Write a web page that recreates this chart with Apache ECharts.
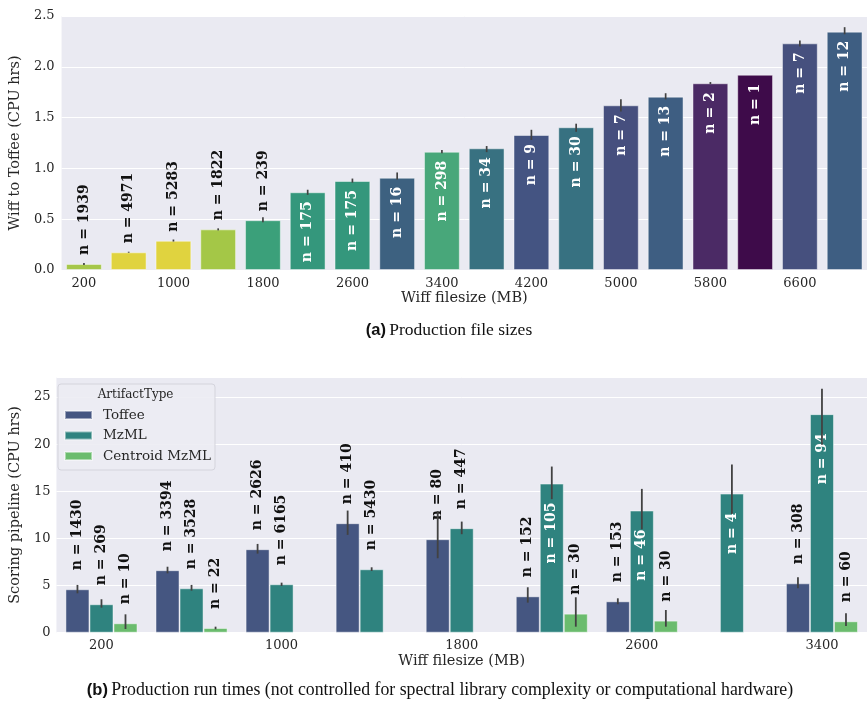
<!DOCTYPE html>
<html>
<head>
<meta charset="utf-8">
<script src="https://cdn.jsdelivr.net/npm/echarts@6/dist/echarts.min.js"></script>
<style>
html,body{margin:0;padding:0;background:#fff;}
#chart{width:867px;height:702px;}
</style>
</head>
<body>
<div id="chart"></div>
<script>
// ---------- Panel (a): Wiff to Toffee ----------
const topCategories = ['200','600','1000','1400','1800','2200','2600','3000','3400','3800','4200','4600','5000','5400','5800','6200','6600','7000'];
const topValues = [0.06, 0.174, 0.288, 0.40, 0.49, 0.765, 0.876, 0.908, 1.164, 1.198, 1.329, 1.405, 1.621, 1.706, 1.838, 1.922, 2.231, 2.346];
const topErrLow = [0.05, 0.17, 0.28, 0.39, 0.47, 0.74, 0.86, 0.89, 1.15, 1.16, 1.28, 1.36, 1.56, 1.68, 1.83, null, 2.20, 2.32];
const topErrHigh = [0.07, 0.18, 0.30, 0.41, 0.52, 0.79, 0.90, 0.96, 1.18, 1.22, 1.38, 1.44, 1.68, 1.74, 1.85, null, 2.26, 2.39];
const topCounts = [1939, 4971, 5283, 1822, 239, 175, 175, 16, 298, 34, 9, 30, 7, 13, 2, 1, 7, 12];
const topColors = ['#a6c74a','#e0d33f','#e0d33f','#a4c747','#3ba07a','#34977c','#34977c','#3d6180','#48a77a','#387181','#445482','#377181','#464f7e','#3e5e82','#4b2a65','#3e0b4a','#46507e','#3e5e82'];

// ---------- Panel (b): Scoring pipeline ----------
const botCategories = ['200','600','1000','1400','1800','2200','2600','3000','3400'];
const seriesNames = ['Toffee','MzML','Centroid MzML'];
const toffeeValues   = [4.61, 6.63, 8.86, 11.62, 9.92, 3.86, 3.33, null, 5.24];
const mzmlValues     = [3.02, 4.71, 5.14, 6.73, 11.09, 15.82, 12.96, 14.76, 23.19];
const centroidValues = [1.00, 0.50, null, null, null, 2.02, 1.28, null, 1.21];
const toffeeCounts   = [1430, 3394, 2626, 410, 80, 152, 153, null, 308];
const mzmlCounts     = [269, 3528, 6165, 5430, 447, 105, 46, 4, 94];
const centroidCounts = [10, 22, null, null, null, 30, 30, null, 60];
const toffeeErrLow    = [4.18, 6.30, 8.39, 10.38, 7.90, 3.19, 3.02, null, 4.71];
const toffeeErrHigh   = [5.07, 7.00, 9.42, 12.96, 12.90, 4.82, 3.65, null, 5.88];
const mzmlErrLow      = [2.66, 4.46, 4.96, 6.55, 10.45, 14.17, 10.98, 12.60, 19.93];
const mzmlErrHigh     = [3.55, 5.07, 5.31, 6.94, 11.79, 17.63, 15.26, 17.84, 25.88];
const centroidErrLow  = [0.39, 0.36, null, null, null, 0.64, 0.64, null, 0.71];
const centroidErrHigh = [1.95, 0.64, null, null, null, 3.76, 2.41, null, 2.06];
const botColors = ['#455681', '#2f837f', '#6bbc6e'];

const topTicks = [0, 0.5, 1.0, 1.5, 2.0, 2.5];
const botTicks = [0, 5, 10, 15, 20, 25];

// ---------- styling helpers ----------
const FONT = 'DejaVu Serif';
const TXT = '#262626';
const ERR = '#424242';

function labelFor(value, n, inside, dist) {
  if (inside) {
    return {show: true, position: 'insideTop', rotate: 90, align: 'right', verticalAlign: 'middle',
      distance: dist, color: '#ffffff', fontFamily: FONT, fontWeight: 'bold', fontSize: 14,
      formatter: 'n = ' + n};
  }
  return {show: true, position: 'top', rotate: 90, align: 'left', verticalAlign: 'middle',
    distance: dist, color: '#111111', fontFamily: FONT, fontWeight: 'bold', fontSize: 14,
    formatter: 'n = ' + n};
}

const topBarData = topValues.map((v, i) => ({
  value: v,
  itemStyle: {color: topColors[i]},
  label: labelFor(v, topCounts[i], v > 0.6, 9)
}));

function errData(lo, hi) {
  const out = [];
  lo.forEach((l, i) => { if (l != null && hi[i] != null) out.push([i, l, hi[i]]); });
  return out;
}

function errSeries(xIdx, yIdx, data, k, nGroups, width) {
  return {
    type: 'custom', xAxisIndex: xIdx, yAxisIndex: yIdx, z: 5, silent: true,
    data: data, encode: {x: 0, y: [1, 2]},
    renderItem: function (params, api) {
      const band = api.size([1, 0])[0];
      const off = nGroups > 1 ? (k - (nGroups - 1) / 2) * band * 0.8 / nGroups : 0;
      const p1 = api.coord([api.value(0), api.value(1)]);
      const p2 = api.coord([api.value(0), api.value(2)]);
      return {type: 'line', shape: {x1: p1[0] + off, y1: p1[1], x2: p2[0] + off, y2: p2[1]},
        style: {stroke: ERR, lineWidth: width}};
    }
  };
}

function botBarSeries(name, values, counts, k) {
  return {
    name: name, type: 'bar', xAxisIndex: 1, yAxisIndex: 1,
    barGap: '0%', barCategoryGap: '20%',
    itemStyle: {color: botColors[k], borderColor: 'rgba(255,255,255,0.45)', borderWidth: 1},
    data: values.map((v, i) => v == null ? null : ({
      value: v,
      label: labelFor(v, counts[i], v > 12, 19)
    }))
  };
}

const axisLabelStyle = {fontFamily: FONT, fontSize: 13, color: TXT};
const nameStyle = {fontFamily: FONT, fontSize: 14.5, color: TXT};

const option = {
  animation: false,
  backgroundColor: '#ffffff',
  grid: [
    {left: 57, top: 16, width: 819, height: 254, show: true, backgroundColor: '#eaeaf2', borderWidth: 0},
    {left: 51.7, top: 377.3, width: 822, height: 255.4, show: true, backgroundColor: '#eaeaf2', borderWidth: 0}
  ],
  xAxis: [
    {type: 'category', gridIndex: 0, data: topCategories,
      axisLine: {show: false}, axisTick: {show: false},
      axisLabel: Object.assign({interval: 1, margin: 7}, axisLabelStyle),
      name: 'Wiff filesize (MB)', nameLocation: 'middle', nameGap: 21, nameTextStyle: nameStyle},
    {type: 'category', gridIndex: 1, data: botCategories,
      axisLine: {show: false}, axisTick: {show: false},
      axisLabel: Object.assign({interval: 1, margin: 6}, axisLabelStyle),
      name: 'Wiff filesize (MB)', nameLocation: 'middle', nameGap: 21, nameTextStyle: nameStyle}
  ],
  yAxis: [
    {type: 'value', gridIndex: 0, min: topTicks[0], max: topTicks[topTicks.length - 1], interval: 0.5,
      axisLine: {show: false}, axisTick: {show: false},
      splitLine: {lineStyle: {color: '#ffffff', width: 1}},
      axisLabel: Object.assign({margin: 7, formatter: v => v.toFixed(1)}, axisLabelStyle),
      name: 'Wiff to Toffee (CPU hrs)', nameLocation: 'middle', nameGap: 30, nameTextStyle: nameStyle},
    {type: 'value', gridIndex: 1, min: botTicks[0], max: 27.1, interval: 5,
      axisLine: {show: false}, axisTick: {show: false},
      splitLine: {lineStyle: {color: '#ffffff', width: 1}},
      axisLabel: Object.assign({margin: 6, showMaxLabel: false,
        formatter: v => (botTicks.indexOf(v) >= 0 ? String(v) : '')}, axisLabelStyle),
      name: 'Scoring pipeline (CPU hrs)', nameLocation: 'middle', nameGap: 25, nameTextStyle: nameStyle}
  ],
  legend: {
    data: seriesNames, orient: 'vertical', left: 58, top: 384,
    padding: [24, 4, 7, 6], itemGap: 6.5, itemWidth: 27, itemHeight: 8, icon: 'rect',
    backgroundColor: 'rgba(236,236,243,0.9)', borderColor: '#d4d4dc', borderWidth: 1, borderRadius: 3,
    textStyle: {fontFamily: FONT, fontSize: 13.5, color: TXT, padding: [0, 0, 0, 6]}
  },
  graphic: [
    {type: 'text', left: 136.7 - 39, top: 389, z: 100,
      style: {text: 'ArtifactType', font: '12px "DejaVu Serif"', fill: TXT}},
    {type: 'text', x: 449, y: 330, z: 100,
      style: {text: '{b|(a)} {r|Production file sizes}', align: 'center', verticalAlign: 'middle',
        rich: {b: {font: 'bold 16.5px "Liberation Sans"', fill: '#111'}, r: {font: '17.5px "Liberation Serif"', fill: '#111'}}}},
    {type: 'text', x: 440, y: 690, z: 100,
      style: {text: '{b|(b)} {r|Production run times (not controlled for spectral library complexity or computational hardware)}', align: 'center', verticalAlign: 'middle',
        rich: {b: {font: 'bold 16.5px "Liberation Sans"', fill: '#111'}, r: {font: '17.8px "Liberation Serif"', fill: '#111'}}}}
  ],
  series: [
    {type: 'bar', xAxisIndex: 0, yAxisIndex: 0, barWidth: '80%',
      itemStyle: {borderColor: 'rgba(255,255,255,0.45)', borderWidth: 1},
      data: topBarData},
    errSeries(0, 0, errData(topErrLow, topErrHigh), 0, 1, 1.7),
    botBarSeries(seriesNames[0], toffeeValues, toffeeCounts, 0),
    botBarSeries(seriesNames[1], mzmlValues, mzmlCounts, 1),
    botBarSeries(seriesNames[2], centroidValues, centroidCounts, 2),
    errSeries(1, 1, errData(toffeeErrLow, toffeeErrHigh), 0, 3, 1.8),
    errSeries(1, 1, errData(mzmlErrLow, mzmlErrHigh), 1, 3, 1.8),
    errSeries(1, 1, errData(centroidErrLow, centroidErrHigh), 2, 3, 1.8)
  ]
};

const chart = echarts.init(document.getElementById('chart'), null, {renderer: 'canvas'});
chart.setOption(option);
</script>
</body>
</html>
